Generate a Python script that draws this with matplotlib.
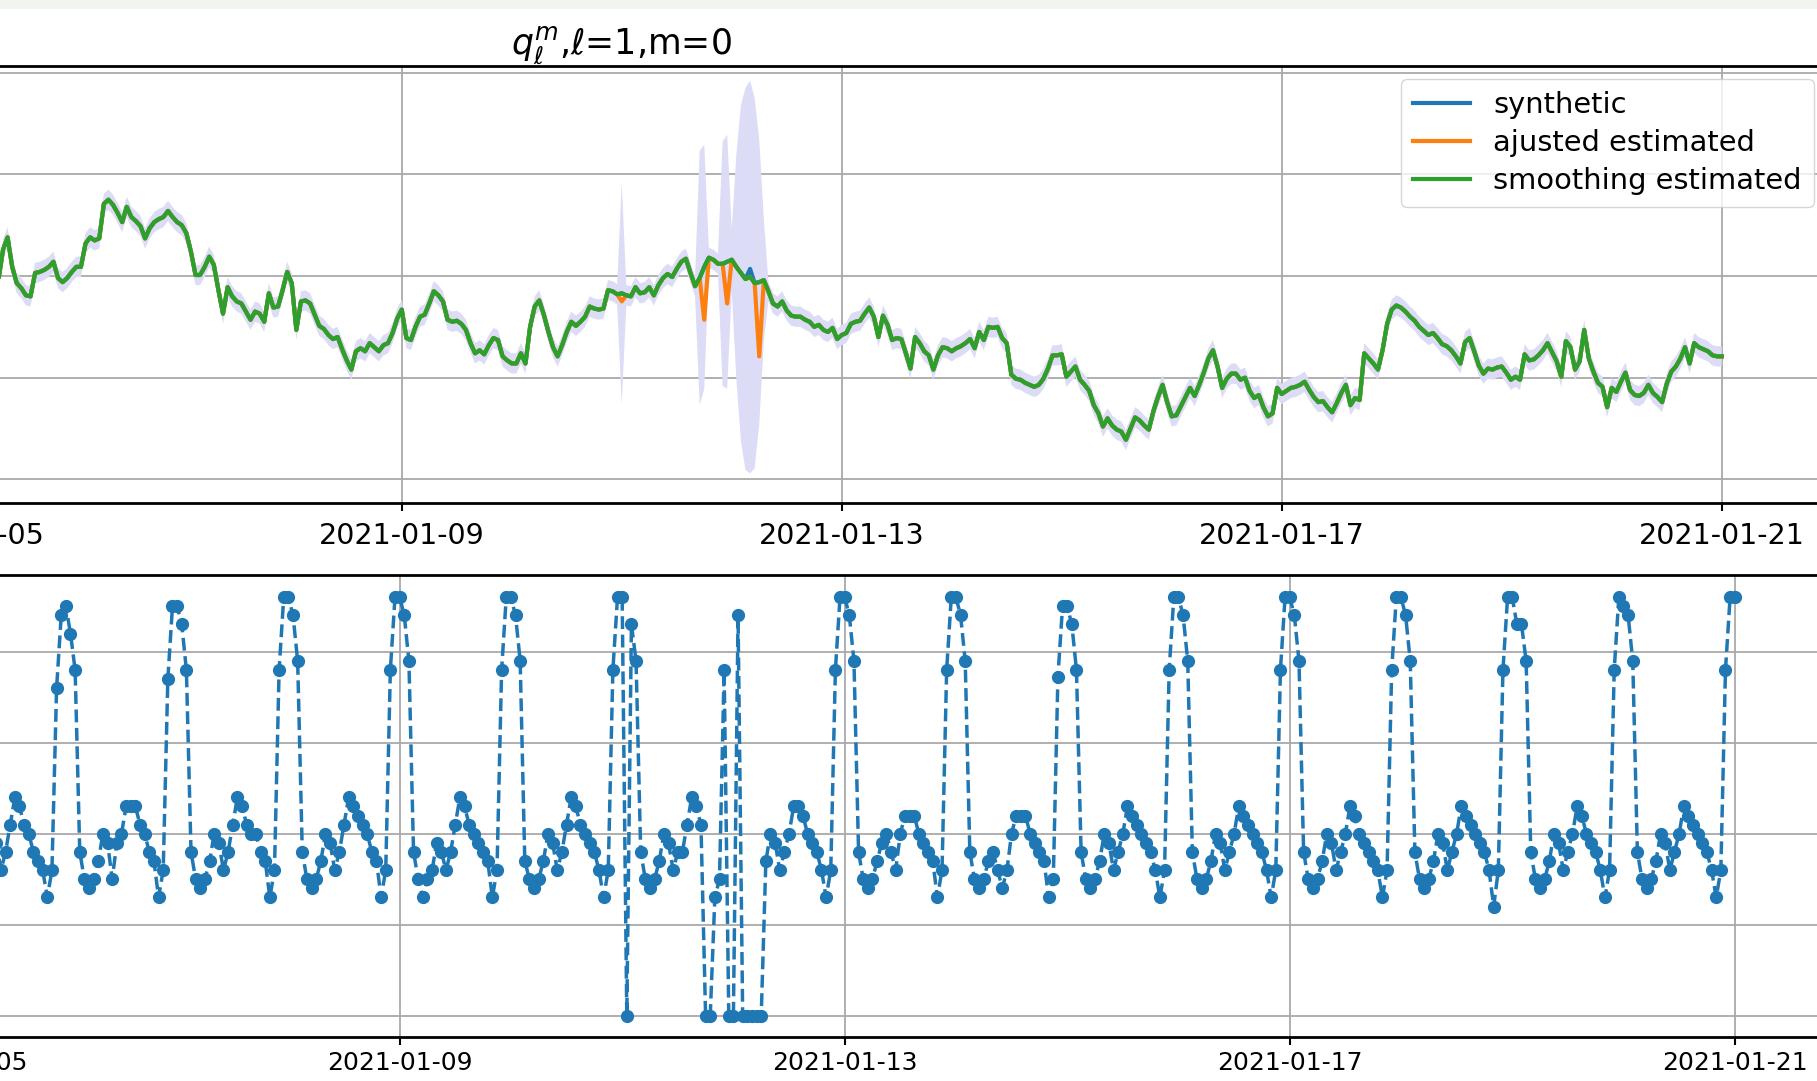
import numpy as np
import pandas as pd
import matplotlib
matplotlib.use('Agg')
import matplotlib.pyplot as plt
import matplotlib.dates as mdates
from matplotlib.patches import Rectangle

# ---------------- top panel data (hourly, from 2021-01-05 08:00) ----------------
top_start = '2021-01-05 08:00'
smoothing_estimated = [
    # 01-05 08:00-23:00
    -0.04, 0.26, 0.38, 0.09, -0.07, -0.12, -0.19, -0.20, 0.03, 0.04, 0.06, 0.09, 0.14, -0.02, -0.06, -0.02,
    # 01-06
    0.04, 0.09, 0.09, 0.32, 0.38, 0.35, 0.37, 0.71, 0.75, 0.70, 0.62, 0.53, 0.68, 0.58, 0.54, 0.49, 0.37, 0.47, 0.53, 0.56, 0.58, 0.64, 0.58, 0.53,
    # 01-07
    0.50, 0.42, 0.24, 0.01, 0.01, 0.09, 0.19, 0.11, -0.14, -0.37, -0.11, -0.20, -0.25, -0.27, -0.35, -0.43, -0.35, -0.37, -0.45, -0.17, -0.31, -0.30, -0.14, 0.04,
    # 01-08
    -0.07, -0.53, -0.25, -0.24, -0.27, -0.38, -0.49, -0.52, -0.58, -0.62, -0.60, -0.72, -0.83, -0.92, -0.74, -0.71, -0.74, -0.66, -0.70, -0.74, -0.68, -0.66, -0.56, -0.42,
    # 01-09
    -0.33, -0.61, -0.63, -0.50, -0.40, -0.38, -0.27, -0.15, -0.19, -0.25, -0.43, -0.45, -0.44, -0.47, -0.53, -0.66, -0.76, -0.73, -0.77, -0.68, -0.61, -0.63, -0.79, -0.83,
    # 01-10
    -0.86, -0.86, -0.76, -0.86, -0.50, -0.30, -0.24, -0.38, -0.55, -0.70, -0.79, -0.68, -0.55, -0.45, -0.49, -0.45, -0.40, -0.30, -0.32, -0.33, -0.32, -0.14, -0.15, -0.18,
    # 01-11
    -0.17, -0.19, -0.20, -0.11, -0.17, -0.16, -0.11, -0.19, -0.09, -0.02, 0.02, -0.01, 0.07, 0.14, 0.17, 0.03, -0.10, -0.02, 0.09, 0.18, 0.16, 0.12, 0.12, 0.14,
    # 01-12
    0.16, 0.09, 0.03, -0.03, -0.01, -0.07, -0.06, -0.04, -0.15, -0.27, -0.30, -0.25, -0.34, -0.39, -0.40, -0.40, -0.43, -0.45, -0.50, -0.48, -0.53, -0.55, -0.51, -0.62,
    # 01-13
    -0.58, -0.56, -0.47, -0.45, -0.44, -0.37, -0.31, -0.40, -0.60, -0.39, -0.48, -0.63, -0.61, -0.62, -0.76, -0.91, -0.60, -0.66, -0.74, -0.78, -0.92, -0.78, -0.70, -0.71,
    # 01-14
    -0.74, -0.71, -0.69, -0.66, -0.62, -0.71, -0.55, -0.63, -0.50, -0.51, -0.50, -0.61, -0.66, -0.97, -1.01, -1.02, -1.05, -1.07, -1.09, -1.07, -1.01, -0.91, -0.78, -0.78,
    # 01-15
    -0.77, -0.99, -0.94, -0.89, -1.02, -1.07, -1.13, -1.27, -1.35, -1.48, -1.40, -1.47, -1.51, -1.53, -1.61, -1.50, -1.39, -1.42, -1.47, -1.51, -1.33, -1.19, -1.07, -1.24,
    # 01-16
    -1.38, -1.37, -1.28, -1.19, -1.10, -1.18, -1.07, -0.95, -0.81, -0.73, -0.89, -1.10, -1.01, -0.96, -0.96, -1.02, -1.00, -1.13, -1.20, -1.17, -1.29, -1.38, -1.35, -1.10,
    # 01-17
    -1.16, -1.13, -1.10, -1.09, -1.07, -1.04, -1.12, -1.19, -1.24, -1.23, -1.29, -1.34, -1.25, -1.15, -1.07, -1.27, -1.20, -1.22, -0.76, -0.81, -0.86, -0.92, -0.73, -0.47,
    # 01-18
    -0.33, -0.29, -0.31, -0.35, -0.40, -0.44, -0.50, -0.54, -0.58, -0.56, -0.61, -0.67, -0.69, -0.73, -0.79, -0.86, -0.65, -0.61, -0.74, -0.88, -0.96, -0.91, -0.92, -0.90,
    # 01-19
    -0.89, -0.95, -1.02, -0.99, -1.02, -0.77, -0.83, -0.82, -0.78, -0.73, -0.66, -0.75, -0.84, -0.99, -0.64, -0.70, -0.92, -0.84, -0.53, -0.81, -0.94, -1.05, -1.09, -1.29,
    # 01-20
    -1.10, -1.14, -1.04, -0.95, -1.12, -1.17, -1.18, -1.15, -1.07, -1.15, -1.19, -1.24, -1.06, -0.94, -0.89, -0.81, -0.70, -0.86, -0.66, -0.70, -0.72, -0.74, -0.78, -0.79,
    # 01-21 00:00
    -0.79,
]
# hours where the adjusted estimate departs from the smoothed one
adjusted_points = {
    '2021-01-11 00:00': -0.25,
    '2021-01-11 18:00': -0.43,
    '2021-01-11 23:00': -0.27,
    '2021-01-12 06:00': -0.79,
}
# hours where the synthetic series departs from the smoothed one
synthetic_points = {
    '2021-01-12 04:00': 0.07,
}
# half width of the uncertainty band
band_halfwidth_normal = 0.10
band_halfwidth_wide = {
    '2021-01-11 00:00': 1.09,
    '2021-01-11 17:00': 1.25, '2021-01-11 18:00': 1.20,
    '2021-01-11 22:00': 1.20, '2021-01-11 23:00': 1.25,
    '2021-01-12 00:00': 0.30,
    '2021-01-12 01:00': 1.10, '2021-01-12 02:00': 1.65, '2021-01-12 03:00': 1.88,
    '2021-01-12 04:00': 1.93, '2021-01-12 05:00': 1.82, '2021-01-12 06:00': 1.40,
    '2021-01-12 07:00': 0.60,
}

# ---------------- bottom panel data (hourly, from 2021-01-05 01:00) ----------------
bottom_start = '2021-01-05 01:00'
bottom_values = [
    # 01-05 01:00 ... 01-06 00:00
    0.88, 0.78, 0.36, 0.30, 0.28, 0.30, 0.34, 0.40, 0.38, 0.32, 0.36, 0.42, 0.48, 0.46, 0.42, 0.40, 0.36, 0.34, 0.32, 0.26, 0.32, 0.72, 0.88, 0.90,
    0.84, 0.76, 0.36, 0.30, 0.28, 0.30, 0.34, 0.40, 0.38, 0.30, 0.38, 0.40, 0.46, 0.46, 0.46, 0.42, 0.40, 0.36, 0.34, 0.26, 0.32, 0.74, 0.90, 0.90,
    0.86, 0.76, 0.36, 0.30, 0.28, 0.30, 0.34, 0.40, 0.38, 0.32, 0.36, 0.42, 0.48, 0.46, 0.42, 0.40, 0.40, 0.36, 0.34, 0.26, 0.32, 0.76, 0.92, 0.92,
    0.88, 0.78, 0.36, 0.30, 0.28, 0.30, 0.34, 0.40, 0.38, 0.32, 0.36, 0.42, 0.48, 0.46, 0.44, 0.42, 0.40, 0.36, 0.34, 0.26, 0.32, 0.76, 0.92, 0.92,
    0.88, 0.78, 0.36, 0.30, 0.26, 0.30, 0.32, 0.38, 0.36, 0.32, 0.36, 0.42, 0.48, 0.46, 0.42, 0.40, 0.38, 0.36, 0.34, 0.26, 0.32, 0.76, 0.92, 0.92,
    0.88, 0.78, 0.34, 0.30, 0.28, 0.30, 0.34, 0.40, 0.38, 0.32, 0.36, 0.42, 0.48, 0.46, 0.42, 0.40, 0.38, 0.36, 0.32, 0.26, 0.32, 0.76, 0.92, 0.92,
    0.00, 0.86, 0.78, 0.36, 0.30, 0.28, 0.30, 0.34, 0.40, 0.38, 0.32, 0.36, 0.36, 0.42, 0.48, 0.46, 0.42, 0.00, 0.00, 0.26, 0.30, 0.76, 0.00, 0.00,
    0.88, 0.00, 0.00, 0.00, 0.00, 0.00, 0.34, 0.40, 0.38, 0.32, 0.36, 0.40, 0.46, 0.46, 0.44, 0.40, 0.38, 0.36, 0.32, 0.26, 0.32, 0.76, 0.92, 0.92,
    0.88, 0.78, 0.36, 0.30, 0.28, 0.30, 0.34, 0.38, 0.40, 0.36, 0.32, 0.40, 0.44, 0.44, 0.44, 0.40, 0.38, 0.36, 0.34, 0.26, 0.32, 0.76, 0.92, 0.92,
    0.88, 0.78, 0.36, 0.30, 0.28, 0.30, 0.34, 0.36, 0.32, 0.28, 0.32, 0.40, 0.44, 0.44, 0.44, 0.40, 0.38, 0.36, 0.34, 0.26, 0.30, 0.745, 0.90, 0.90,
    0.86, 0.76, 0.36, 0.30, 0.28, 0.30, 0.34, 0.40, 0.38, 0.32, 0.36, 0.40, 0.46, 0.44, 0.42, 0.40, 0.38, 0.36, 0.32, 0.26, 0.32, 0.76, 0.92, 0.92,
    0.88, 0.78, 0.36, 0.30, 0.28, 0.30, 0.34, 0.40, 0.38, 0.32, 0.36, 0.40, 0.46, 0.44, 0.42, 0.40, 0.38, 0.36, 0.32, 0.26, 0.32, 0.76, 0.92, 0.92,
    0.88, 0.78, 0.36, 0.30, 0.28, 0.30, 0.34, 0.40, 0.38, 0.32, 0.36, 0.40, 0.46, 0.44, 0.40, 0.38, 0.36, 0.34, 0.32, 0.26, 0.32, 0.76, 0.92, 0.92,
    0.88, 0.78, 0.36, 0.30, 0.28, 0.30, 0.34, 0.40, 0.38, 0.32, 0.36, 0.40, 0.46, 0.44, 0.42, 0.40, 0.38, 0.36, 0.32, 0.24, 0.32, 0.76, 0.92, 0.92,
    0.86, 0.86, 0.78, 0.36, 0.30, 0.28, 0.30, 0.34, 0.40, 0.38, 0.32, 0.36, 0.40, 0.46, 0.44, 0.40, 0.38, 0.36, 0.32, 0.26, 0.32, 0.76, 0.92, 0.90,
    0.88, 0.78, 0.36, 0.30, 0.28, 0.30, 0.34, 0.40, 0.38, 0.32, 0.36, 0.40, 0.46, 0.44, 0.42, 0.40, 0.38, 0.36, 0.32, 0.26, 0.32, 0.76, 0.92, 0.92,
]

x_ticks = ['2021-01-05', '2021-01-09', '2021-01-13', '2021-01-17', '2021-01-21']
x_range = ('2020-12-31', '2021-01-22')
legend_labels = ['synthetic', 'ajusted estimated', 'smoothing estimated']
title_text = r'$q_{\ell}^{m}$,$\ell$=1,m=0'

# ---------------- build series ----------------
t_top = pd.date_range(top_start, periods=len(smoothing_estimated), freq='h')
smooth = pd.Series(smoothing_estimated, index=t_top, dtype=float)
adjusted = smooth.copy()
for k, v in adjusted_points.items():
    adjusted[pd.Timestamp(k)] = v
synthetic = smooth.copy()
for k, v in synthetic_points.items():
    synthetic[pd.Timestamp(k)] = v
halfw = pd.Series(band_halfwidth_normal, index=t_top, dtype=float)
for k, v in band_halfwidth_wide.items():
    halfw[pd.Timestamp(k)] = v

t_bot = pd.date_range(bottom_start, periods=len(bottom_values), freq='h')

# ---------------- figure ----------------
W, H = 1817, 1081
fig = plt.figure(figsize=(W / 100, H / 100), dpi=100)
fig.patches.append(Rectangle((0, 1 - 9 / H), 1, 9 / H, transform=fig.transFigure,
                             facecolor='#f2f4ef', edgecolor='none', zorder=-5))

ax1 = fig.add_axes([-588.2 / W, 1 - 502.7 / H, 2419.9 / W, 436.7 / H])
ax2 = fig.add_axes([-601.7 / W, 1 - 1036.7 / H, 2447.7 / W, 461.7 / H])

grid_kw = dict(color='#a9a9a9', linewidth=1.3)

# top
ax1.fill_between(t_top, smooth - halfw, smooth + halfw, facecolor='#dcdcf6',
                 edgecolor='none', linewidth=0, zorder=1)
ax1.plot(t_top, synthetic, color='tab:blue', lw=3.0, label=legend_labels[0], zorder=3)
ax1.plot(t_top, adjusted, color='tab:orange', lw=3.0, label=legend_labels[1], zorder=4)
ax1.plot(t_top, smooth, color='tab:green', lw=3.0, label=legend_labels[2], zorder=5)
ax1.set_ylim(-2.229, 2.065)
ax1.set_yticks([-2, -1, 0, 1, 2])
ax1.set_title(title_text, fontsize=25, pad=9)
ax1.legend(loc='upper right', fontsize=20.8, labelspacing=0.36,
           borderaxespad=0, bbox_to_anchor=(0.9925, 0.970))

# bottom
ax2.plot(t_bot, bottom_values, 'o--', color='tab:blue', lw=2.5, ms=8.5, zorder=3)
ax2.set_ylim(-0.046, 0.9686)
ax2.set_yticks([0, 0.2, 0.4, 0.6, 0.8])

for ax, fs, pad in ((ax1, 20.5, 8), (ax2, 18, 4.5)):
    ax.set_xlim(pd.Timestamp(x_range[0]), pd.Timestamp(x_range[1]))
    ax.set_xticks([pd.Timestamp(t) for t in x_ticks])
    ax.xaxis.set_major_formatter(mdates.DateFormatter('%Y-%m-%d'))
    ax.grid(True, **grid_kw)
    ax.set_axisbelow(True)
    ax.tick_params(axis='x', labelsize=fs, length=6, width=1.5, pad=pad)
    ax.tick_params(axis='y', length=6, width=1.5, labelleft=False)
    for s in ax.spines.values():
        s.set_linewidth(2.0)

fig.savefig('out.png', dpi=100)
